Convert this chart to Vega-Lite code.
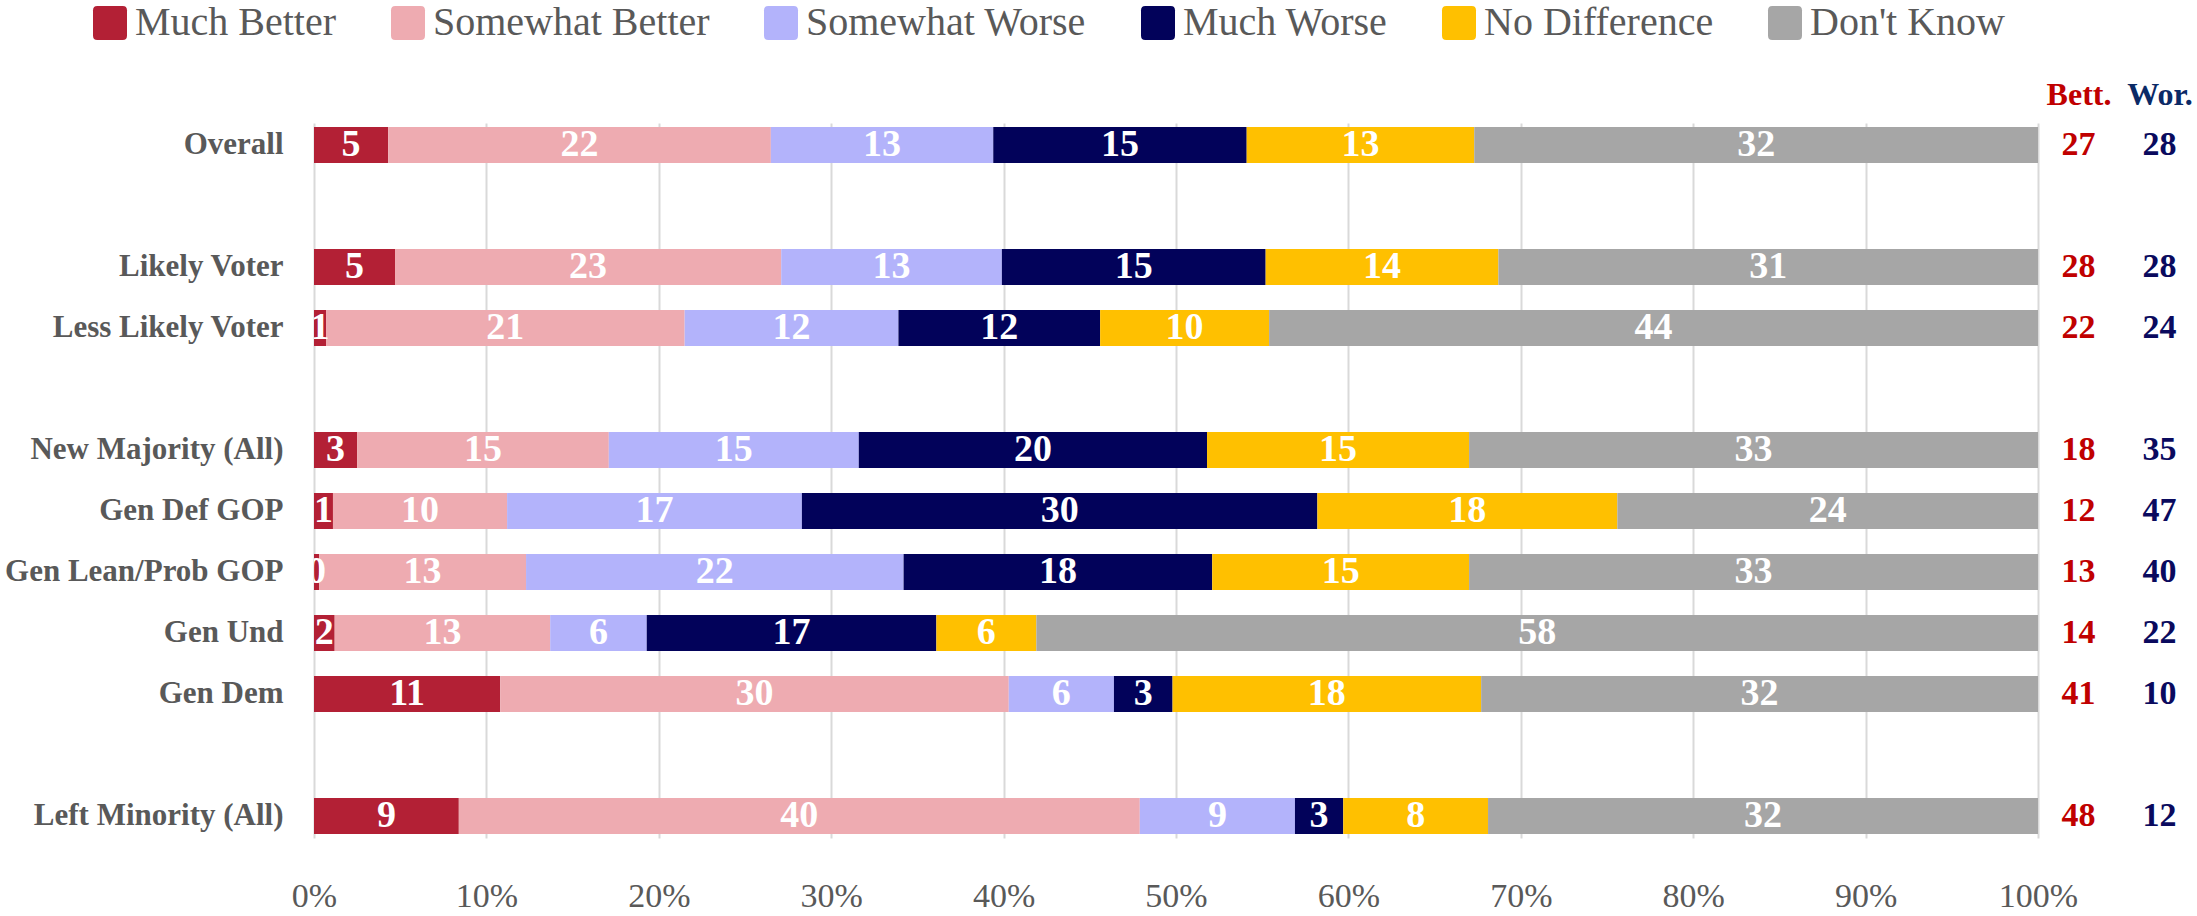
{
  "$schema": "https://vega.github.io/schema/vega-lite/v6.json",
  "padding": {"left": 4, "top": 3, "right": 0, "bottom": 0},
  "bounds": "flush",
  "spacing": 0,
  "config": {
    "font": "Liberation Serif",
    "view": {"stroke": null},
    "axis": {"domain": false, "ticks": false, "tickSize": 0, "title": null}
  },
  "datasets": {
    "bars": [
      {"g": "Overall", "cat": "Much Better", "k": 1, "v": 4.3, "lab": 5},
      {"g": "Overall", "cat": "Somewhat Better", "k": 2, "v": 22.2, "lab": 22},
      {"g": "Overall", "cat": "Somewhat Worse", "k": 3, "v": 12.9, "lab": 13},
      {"g": "Overall", "cat": "Much Worse", "k": 4, "v": 14.7, "lab": 15},
      {"g": "Overall", "cat": "No Difference", "k": 5, "v": 13.2, "lab": 13},
      {"g": "Overall", "cat": "Don't Know", "k": 6, "v": 32.7, "lab": 32},
      {"g": "Likely Voter", "cat": "Much Better", "k": 1, "v": 4.7, "lab": 5},
      {"g": "Likely Voter", "cat": "Somewhat Better", "k": 2, "v": 22.4, "lab": 23},
      {"g": "Likely Voter", "cat": "Somewhat Worse", "k": 3, "v": 12.8, "lab": 13},
      {"g": "Likely Voter", "cat": "Much Worse", "k": 4, "v": 15.3, "lab": 15},
      {"g": "Likely Voter", "cat": "No Difference", "k": 5, "v": 13.5, "lab": 14},
      {"g": "Likely Voter", "cat": "Don't Know", "k": 6, "v": 31.3, "lab": 31},
      {"g": "Less Likely Voter", "cat": "Much Better", "k": 1, "v": 0.7, "lab": 1},
      {"g": "Less Likely Voter", "cat": "Somewhat Better", "k": 2, "v": 20.8, "lab": 21},
      {"g": "Less Likely Voter", "cat": "Somewhat Worse", "k": 3, "v": 12.4, "lab": 12},
      {"g": "Less Likely Voter", "cat": "Much Worse", "k": 4, "v": 11.7, "lab": 12},
      {"g": "Less Likely Voter", "cat": "No Difference", "k": 5, "v": 9.8, "lab": 10},
      {"g": "Less Likely Voter", "cat": "Don't Know", "k": 6, "v": 44.6, "lab": 44},
      {"g": "New Majority (All)", "cat": "Much Better", "k": 1, "v": 2.5, "lab": 3},
      {"g": "New Majority (All)", "cat": "Somewhat Better", "k": 2, "v": 14.6, "lab": 15},
      {"g": "New Majority (All)", "cat": "Somewhat Worse", "k": 3, "v": 14.5, "lab": 15},
      {"g": "New Majority (All)", "cat": "Much Worse", "k": 4, "v": 20.2, "lab": 20},
      {"g": "New Majority (All)", "cat": "No Difference", "k": 5, "v": 15.2, "lab": 15},
      {"g": "New Majority (All)", "cat": "Don't Know", "k": 6, "v": 33.0, "lab": 33},
      {"g": "Gen Def GOP", "cat": "Much Better", "k": 1, "v": 1.1, "lab": 1},
      {"g": "Gen Def GOP", "cat": "Somewhat Better", "k": 2, "v": 10.1, "lab": 10},
      {"g": "Gen Def GOP", "cat": "Somewhat Worse", "k": 3, "v": 17.1, "lab": 17},
      {"g": "Gen Def GOP", "cat": "Much Worse", "k": 4, "v": 29.9, "lab": 30},
      {"g": "Gen Def GOP", "cat": "No Difference", "k": 5, "v": 17.4, "lab": 18},
      {"g": "Gen Def GOP", "cat": "Don't Know", "k": 6, "v": 24.4, "lab": 24},
      {"g": "Gen Lean/Prob GOP", "cat": "Much Better", "k": 1, "v": 0.3, "lab": 0},
      {"g": "Gen Lean/Prob GOP", "cat": "Somewhat Better", "k": 2, "v": 12.0, "lab": 13},
      {"g": "Gen Lean/Prob GOP", "cat": "Somewhat Worse", "k": 3, "v": 21.9, "lab": 22},
      {"g": "Gen Lean/Prob GOP", "cat": "Much Worse", "k": 4, "v": 17.9, "lab": 18},
      {"g": "Gen Lean/Prob GOP", "cat": "No Difference", "k": 5, "v": 14.9, "lab": 15},
      {"g": "Gen Lean/Prob GOP", "cat": "Don't Know", "k": 6, "v": 33.0, "lab": 33},
      {"g": "Gen Und", "cat": "Much Better", "k": 1, "v": 1.2, "lab": 2},
      {"g": "Gen Und", "cat": "Somewhat Better", "k": 2, "v": 12.5, "lab": 13},
      {"g": "Gen Und", "cat": "Somewhat Worse", "k": 3, "v": 5.6, "lab": 6},
      {"g": "Gen Und", "cat": "Much Worse", "k": 4, "v": 16.8, "lab": 17},
      {"g": "Gen Und", "cat": "No Difference", "k": 5, "v": 5.8, "lab": 6},
      {"g": "Gen Und", "cat": "Don't Know", "k": 6, "v": 58.1, "lab": 58},
      {"g": "Gen Dem", "cat": "Much Better", "k": 1, "v": 10.8, "lab": 11},
      {"g": "Gen Dem", "cat": "Somewhat Better", "k": 2, "v": 29.5, "lab": 30},
      {"g": "Gen Dem", "cat": "Somewhat Worse", "k": 3, "v": 6.1, "lab": 6},
      {"g": "Gen Dem", "cat": "Much Worse", "k": 4, "v": 3.4, "lab": 3},
      {"g": "Gen Dem", "cat": "No Difference", "k": 5, "v": 17.9, "lab": 18},
      {"g": "Gen Dem", "cat": "Don't Know", "k": 6, "v": 32.3, "lab": 32},
      {"g": "Left Minority (All)", "cat": "Much Better", "k": 1, "v": 8.4, "lab": 9},
      {"g": "Left Minority (All)", "cat": "Somewhat Better", "k": 2, "v": 39.5, "lab": 40},
      {"g": "Left Minority (All)", "cat": "Somewhat Worse", "k": 3, "v": 9.0, "lab": 9},
      {"g": "Left Minority (All)", "cat": "Much Worse", "k": 4, "v": 2.8, "lab": 3},
      {"g": "Left Minority (All)", "cat": "No Difference", "k": 5, "v": 8.4, "lab": 8},
      {"g": "Left Minority (All)", "cat": "Don't Know", "k": 6, "v": 31.9, "lab": 32}
    ],
    "net": [
      {"g": "Overall", "col": "Bett.", "val": 27},
      {"g": "Overall", "col": "Wor.", "val": 28},
      {"g": "Likely Voter", "col": "Bett.", "val": 28},
      {"g": "Likely Voter", "col": "Wor.", "val": 28},
      {"g": "Less Likely Voter", "col": "Bett.", "val": 22},
      {"g": "Less Likely Voter", "col": "Wor.", "val": 24},
      {"g": "New Majority (All)", "col": "Bett.", "val": 18},
      {"g": "New Majority (All)", "col": "Wor.", "val": 35},
      {"g": "Gen Def GOP", "col": "Bett.", "val": 12},
      {"g": "Gen Def GOP", "col": "Wor.", "val": 47},
      {"g": "Gen Lean/Prob GOP", "col": "Bett.", "val": 13},
      {"g": "Gen Lean/Prob GOP", "col": "Wor.", "val": 40},
      {"g": "Gen Und", "col": "Bett.", "val": 14},
      {"g": "Gen Und", "col": "Wor.", "val": 22},
      {"g": "Gen Dem", "col": "Bett.", "val": 41},
      {"g": "Gen Dem", "col": "Wor.", "val": 10},
      {"g": "Left Minority (All)", "col": "Bett.", "val": 48},
      {"g": "Left Minority (All)", "col": "Wor.", "val": 12}
    ]
  },
  "hconcat": [
    {
      "width": 1724,
      "height": 715,
      "data": {"name": "bars"},
      "encoding": {
        "y": {
          "field": "g",
          "type": "nominal",
          "scale": {
            "type": "band",
            "domain": ["Overall", "_1", "Likely Voter", "Less Likely Voter", "_2", "New Majority (All)", "Gen Def GOP", "Gen Lean/Prob GOP", "Gen Und", "Gen Dem", "_3", "Left Minority (All)"],
            "paddingInner": 0.41,
            "paddingOuter": 0.065
          },
          "axis": {
            "labelExpr": "indexof(datum.value, '_') == 0 ? '' : datum.value",
            "labelFontSize": 31,
            "labelFontWeight": "bold",
            "labelColor": "#595959",
            "labelPadding": 31,
            "labelLimit": 400,
            "grid": false
          }
        }
      },
      "layer": [
        {
          "mark": {"type": "bar"},
          "encoding": {
            "x": {
              "field": "v",
              "type": "quantitative",
              "stack": "normalize",
              "scale": {"domain": [0, 1], "nice": false},
              "axis": {
                "format": ".0%",
                "values": [0, 0.1, 0.2, 0.3, 0.4, 0.5, 0.6, 0.7, 0.8, 0.9, 1],
                "grid": true,
                "gridColor": "#D9D9D9",
                "gridWidth": 2,
                "labelFontSize": 34,
                "labelColor": "#595959",
                "labelPadding": 68,
                "labelBaseline": "alphabetic",
                "labelFlush": false,
                "labelOverlap": false
              }
            },
            "color": {
              "field": "cat",
              "type": "nominal",
              "scale": {
                "domain": ["Much Better", "Somewhat Better", "Somewhat Worse", "Much Worse", "No Difference", "Don't Know"],
                "range": ["#B32035", "#EEABB1", "#B3B3FB", "#02025A", "#FFC000", "#A6A6A6"]
              },
              "legend": {
                "orient": "none",
                "legendX": -224,
                "legendY": -120,
                "direction": "horizontal",
                "title": null,
                "labelFontSize": 40,
                "labelColor": "#595959",
                "labelLimit": 600,
                "labelOffset": 5,
                "columnPadding": 51,
                "symbolType": "M-0.75,-1H0.75Q1,-1,1,-0.75V0.75Q1,1,0.75,1H-0.75Q-1,1,-1,0.75V-0.75Q-1,-1,-0.75,-1Z",
                "symbolSize": 1156,
                "symbolStrokeWidth": 0,
                "symbolOpacity": 1
              }
            },
            "order": {"field": "k", "type": "quantitative"}
          }
        },
        {
          "mark": {"type": "text", "clip": true, "color": "white", "fontSize": 38, "fontWeight": "bold", "align": "center", "baseline": "middle"},
          "encoding": {
            "x": {"field": "v", "type": "quantitative", "stack": "normalize", "bandPosition": 0.5},
            "detail": {"field": "cat", "type": "nominal"},
            "order": {"field": "k", "type": "quantitative"},
            "text": {"field": "lab", "type": "quantitative"}
          }
        }
      ]
    },
    {
      "width": 162,
      "height": 715,
      "data": {"name": "net"},
      "mark": {"type": "text", "fontSize": 34, "fontWeight": "bold", "align": "center", "baseline": "middle"},
      "encoding": {
        "x": {
          "field": "col",
          "type": "nominal",
          "scale": {"type": "point", "domain": ["Bett.", "Wor."], "padding": 0.5},
          "axis": {
            "orient": "top",
            "labelAngle": 0,
            "labelFontSize": 32,
            "labelFontWeight": "bold",
            "labelColor": {"condition": {"test": "datum.value == 'Bett.'", "value": "#C00000"}, "value": "#0B2A66"},
            "labelPadding": 19,
            "labelBaseline": "alphabetic",
            "grid": false
          }
        },
        "y": {
          "field": "g",
          "type": "nominal",
          "scale": {
            "type": "band",
            "domain": ["Overall", "_1", "Likely Voter", "Less Likely Voter", "_2", "New Majority (All)", "Gen Def GOP", "Gen Lean/Prob GOP", "Gen Und", "Gen Dem", "_3", "Left Minority (All)"],
            "paddingInner": 0.41,
            "paddingOuter": 0.065
          },
          "axis": null
        },
        "text": {"field": "val", "type": "quantitative"},
        "color": {"condition": {"test": "datum.col == 'Bett.'", "value": "#C00000"}, "value": "#0A0A5E"}
      }
    }
  ]
}
